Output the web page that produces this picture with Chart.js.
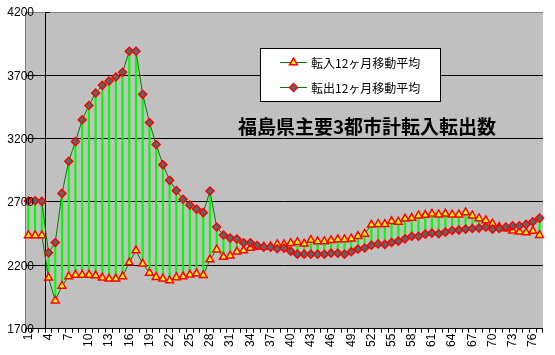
<!DOCTYPE html>
<html><head><meta charset="utf-8">
<script src="https://cdn.jsdelivr.net/npm/chart.js@4"></script>
<style>html,body{margin:0;padding:0;background:#fff}#w{width:555px;height:355px}</style>
</head><body><div id="w"><canvas id="c"></canvas></div>
<script>
const categories = ["1","2","3","4","5","6","7","8","9","10","11","12","13","14","15","16","17","18","19","20","21","22","23","24","25","26","27","28","29","30","31","32","33","34","35","36","37","38","39","40","41","42","43","44","45","46","47","48","49","50","51","52","53","54","55","56","57","58","59","60","61","62","63","64","65","66","67","68","69","70","71","72","73","74","75","76","77"];
const inflow = [2436,2436,2436,2101,1921,2037,2111,2124,2124,2124,2119,2101,2093,2093,2111,2222,2317,2212,2140,2106,2093,2080,2104,2111,2125,2135,2122,2245,2323,2265,2275,2307,2317,2336,2346,2346,2349,2365,2365,2375,2383,2370,2399,2389,2389,2397,2404,2404,2410,2430,2448,2520,2525,2525,2547,2543,2567,2573,2592,2597,2607,2600,2607,2600,2600,2618,2592,2570,2554,2528,2502,2491,2472,2465,2459,2470,2438];
const outflow = [2708,2710,2705,2299,2380,2768,3022,3177,3349,3462,3560,3621,3655,3687,3724,3890,3890,3550,3328,3154,2995,2871,2790,2722,2676,2644,2616,2787,2503,2439,2415,2407,2378,2378,2357,2344,2344,2331,2336,2312,2288,2288,2288,2288,2288,2296,2296,2288,2307,2328,2337,2359,2369,2365,2381,2391,2409,2430,2430,2446,2454,2449,2462,2475,2478,2486,2491,2494,2502,2486,2491,2502,2512,2512,2523,2544,2573];
const seriesNames = ["転入12ヶ月移動平均","転出12ヶ月移動平均"];
const chartTitle = "福島県主要3都市計転入転出数";
const yTicks = [1700,2200,2700,3200,3700,4200];
const yTickLabels = ["1700","2200","2700","3200","3700","4200"];

const hiLo = inflow.map((v,i)=>[Math.min(v,outflow[i]),Math.max(v,outflow[i])]);

const bgPlugin = {
  id:'bg',
  beforeDraw(chart){
    const {ctx,chartArea:a}=chart;
    ctx.save();ctx.fillStyle='#C0C0C0';ctx.fillRect(a.left,a.top,a.right-a.left,a.bottom-a.top);ctx.restore();
  },
  beforeDatasetsDraw(chart){
    const {ctx,chartArea:a,scales}=chart;
    const x=Math.round((scales.x.getPixelForValue(2)+scales.x.getPixelForValue(3))/2)+0.5;
    ctx.save();ctx.strokeStyle='#000';ctx.lineWidth=1;
    ctx.beginPath();ctx.moveTo(x,a.top);ctx.lineTo(x,a.bottom);ctx.moveTo(x,a.top+0.5);ctx.lineTo(x+4,a.top+0.5);ctx.stroke();
    ctx.restore();
  },
  afterDraw(chart){
    const {ctx,scales}=chart;
    ctx.save();
    // y tick labels
    ctx.fillStyle='#000';ctx.font='12px "Liberation Sans", Arial';ctx.textAlign='right';ctx.textBaseline='middle';
    yTicks.forEach((v,i)=>ctx.fillText(yTickLabels[i],34,scales.y.getPixelForValue(v)+1));
    // title
    ctx.font='bold 19px "Noto Sans CJK JP"';ctx.textAlign='center';
    ctx.fillText(chartTitle,367,127);
    // legend
    ctx.fillStyle='#fff';ctx.fillRect(260.5,48.5,180,53);
    ctx.strokeStyle='#000';ctx.lineWidth=1;ctx.strokeRect(260.5,48.5,180,53);
    const ys=[62,87];
    [1,2].forEach((di,k)=>{
      const ds=chart.data.datasets[di];const y=ys[k];
      ctx.strokeStyle=ds.borderColor;ctx.lineWidth=1;
      ctx.beginPath();ctx.moveTo(280,y+0.5);ctx.lineTo(307,y+0.5);ctx.stroke();
      ctx.fillStyle=ds.pointBackgroundColor;ctx.strokeStyle=ds.pointBorderColor;ctx.lineWidth=ds.pointBorderWidth;
      Chart.helpers.drawPoint(ctx,{pointStyle:ds.pointStyle,rotation:0,radius:ds.pointRadius,borderWidth:ds.pointBorderWidth},293.5,y+0.5);
      ctx.fillStyle='#000';ctx.font='12px "Noto Sans CJK JP"';ctx.textAlign='left';ctx.textBaseline='middle';
      ctx.fillText(ds.label,311,y+1);
    });
    ctx.restore();
  }
};

new Chart(document.getElementById('c'),{
  type:'line',
  data:{labels:categories,datasets:[
    {type:'bar',label:'hl',data:hiLo,backgroundColor:'#00FF00',barThickness:1.5,order:3},
    {label:seriesNames[0],data:inflow,borderColor:'#008000',borderWidth:1,pointStyle:'triangle',pointRadius:4.5,pointBackgroundColor:'#FFFF00',pointBorderColor:'#FF0000',pointBorderWidth:1.5,tension:0,order:2},
    {label:seriesNames[1],data:outflow,borderColor:'#008000',borderWidth:1,pointStyle:'rectRot',pointRadius:4,pointBackgroundColor:'#4D6D6D',pointBorderColor:'#FF0000',pointBorderWidth:1.5,tension:0,order:1}
  ]},
  options:{
    responsive:true,maintainAspectRatio:false,animation:false,
    layout:{padding:{left:7,right:6,top:12,bottom:7}},
    plugins:{legend:{display:false},tooltip:{enabled:false},title:{display:false}},
    scales:{
      x:{offset:true,
        grid:{offset:true,drawOnChartArea:false,drawTicks:true,tickLength:4,color:'#000'},
        border:{color:'#000'},
        ticks:{autoSkip:false,minRotation:90,maxRotation:90,padding:1,color:'#000',font:{family:'"Liberation Sans", Arial',size:12},
          callback:(v,i)=> i%3===0 ? categories[i] : ''}
      },
      y:{min:1700,max:4200,
        afterBuildTicks:(s)=>{s.ticks=yTicks.map(v=>({value:v}));},
        afterFit:(s)=>{s.width=18;},
        grid:{drawTicks:false,color:(c)=>c.tick && c.tick.value===4200?'#808080':'#000'},
        border:{color:'#808080'},
        ticks:{display:false}
      }
    }
  },
  plugins:[bgPlugin]
});
</script></body></html>
